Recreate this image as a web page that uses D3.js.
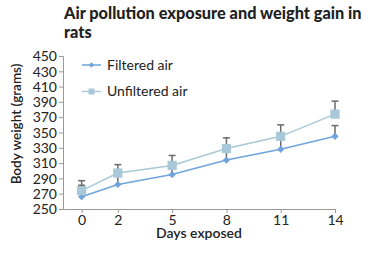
<!DOCTYPE html>
<html>
<head>
<meta charset="utf-8">
<script src="https://cdn.jsdelivr.net/npm/d3@7"></script>
<style>
  body { margin: 0; background: #fff; }
  svg { display: block; font-family: Lato, "Open Sans", sans-serif; }
</style>
</head>
<body>
<div id="chart"></div>
<script>
const days = [0, 2, 5, 8, 11, 14];
const filtered = [266, 282, 295, 314, 328, 345];
const filteredErr = [15, 11, 11, 13, 15, 14];
const unfiltered = [274, 297, 307, 329, 345, 374];
const unfilteredErr = [13, 11, 13, 14, 15, 17];
const yTicks = d3.range(250, 451, 20);
const seriesNames = ['Filtered air', 'Unfiltered air'];

const width = 370;
const height = 254;
const margin = { top: 56, right: 35, bottom: 45, left: 63 };

const svg = d3.select('#chart')
  .append('svg')
  .attr('width', width)
  .attr('height', height);

const x = d3.scaleLinear()
  .domain([-1.03, 14])
  .range([margin.left, width - margin.right]);

const y = d3.scaleLinear()
  .domain([250, 450])
  .range([height - margin.bottom, margin.top]);

// title
svg.append('text')
  .attr('font-size', 16.3)
  .attr('font-weight', 900)
  .attr('fill', '#222')
  .selectAll('tspan')
  .data(['Air pollution exposure and weight gain in', 'rats'])
  .enter()
  .append('tspan')
  .attr('x', 64)
  .attr('y', (d, i) => 19 + i * 18.5)
  .text((d) => d);

// axes
const axisColor = '#999';
const yAxis = svg.append('g')
  .attr('transform', `translate(${margin.left},0)`)
  .call(d3.axisLeft(y).tickValues(yTicks).tickSize(4).tickPadding(2));

const xAxis = svg.append('g')
  .attr('transform', `translate(0,${height - margin.bottom})`)
  .call(d3.axisBottom(x).tickValues(days).tickSize(4).tickPadding(2).tickSizeOuter(0));

[yAxis, xAxis].forEach((g) => {
  g.select('.domain').attr('stroke', axisColor);
  g.selectAll('.tick line').attr('stroke', axisColor);
  g.selectAll('.tick text')
    .attr('fill', '#222')
    .attr('font-size', 14)
    .attr('font-family', 'Lato, sans-serif');
});
yAxis.selectAll('.tick text').attr('dy', '0.34em');

svg.append('text')
  .attr('x', 199)
  .attr('y', 238)
  .attr('text-anchor', 'middle')
  .attr('font-size', 14)
  .attr('font-weight', 600)
  .attr('fill', '#222')
  .text('Days exposed');

svg.append('text')
  .attr('transform', 'translate(21,124) rotate(-90)')
  .attr('text-anchor', 'middle')
  .attr('font-size', 13.5)
  .attr('font-weight', 600)
  .attr('fill', '#222')
  .text('Body weight (grams)');

const series = [
  { name: seriesNames[0], values: filtered, err: filteredErr, color: '#6fa3dc', rotate: 45, size: 26, legendSize: 14 },
  { name: seriesNames[1], values: unfiltered, err: unfilteredErr, color: '#a9c8d8', rotate: 0, size: 85, legendSize: 36 }
];

const line = d3.line()
  .x((d) => x(d.day))
  .y((d) => y(d.value));

series.forEach((s) => {
  const pts = days.map((day, i) => ({ day, value: s.values[i], err: s.err[i] }));
  const g = svg.append('g');

  // error bars (upper)
  const eb = g.selectAll('.err')
    .data(pts)
    .enter()
    .append('g');
  eb.append('line')
    .attr('x1', (d) => x(d.day))
    .attr('x2', (d) => x(d.day))
    .attr('y1', (d) => y(d.value))
    .attr('y2', (d) => y(d.value + d.err))
    .attr('stroke', '#6b6b6b')
    .attr('stroke-width', 1.5);
  eb.append('line')
    .attr('x1', (d) => x(d.day) - 3.5)
    .attr('x2', (d) => x(d.day) + 3.5)
    .attr('y1', (d) => y(d.value + d.err))
    .attr('y2', (d) => y(d.value + d.err))
    .attr('stroke', '#6b6b6b')
    .attr('stroke-width', 1.5);

  g.append('path')
    .datum(pts)
    .attr('d', line)
    .attr('fill', 'none')
    .attr('stroke', s.color)
    .attr('stroke-width', 1.5);

  g.selectAll('.pt')
    .data(pts)
    .enter()
    .append('path')
    .attr('transform', (d) => `translate(${x(d.day)},${y(d.value)}) rotate(${s.rotate})`)
    .attr('d', d3.symbol().type(d3.symbolSquare).size(s.size))
    .attr('fill', s.color);
});

// legend
const legend = svg.append('g');
series.forEach((s, i) => {
  const ly = 65 + i * 26.5;
  legend.append('line')
    .attr('x1', 82)
    .attr('x2', 101)
    .attr('y1', ly)
    .attr('y2', ly)
    .attr('stroke', s.color)
    .attr('stroke-width', 1.5);
  legend.append('path')
    .attr('transform', `translate(91.5,${ly}) rotate(${s.rotate})`)
    .attr('d', d3.symbol().type(d3.symbolSquare).size(s.legendSize))
    .attr('fill', s.color);
  legend.append('text')
    .attr('x', 107)
    .attr('y', ly)
    .attr('dy', '0.35em')
    .attr('font-size', 14)
    .attr('fill', '#222')
    .text(s.name);
});
</script>
</body>
</html>
